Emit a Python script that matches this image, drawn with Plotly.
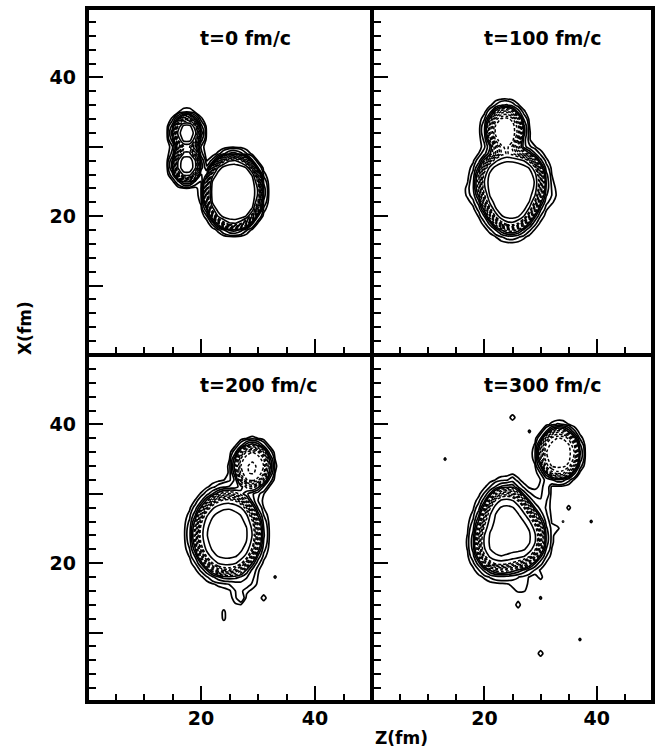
import numpy as np
import plotly.graph_objects as go

# ---- sampling grid of the density (fm) ----
Z_NODES = np.arange(0.0, 51.0, 1.0)
X_NODES = np.arange(0.0, 51.0, 1.0)

# ---- contour levels (fm^-3) ----
LEVELS_OUTER_SOLID = [0.005, 0.01, 0.02, 0.03, 0.04]
LEVELS_DASHED = [0.05, 0.06, 0.07, 0.08, 0.09, 0.10, 0.11]
LEVELS_INNER_SOLID = [0.13, 0.15]

PANEL_LABELS = ["t=0 fm/c", "t=100 fm/c", "t=200 fm/c", "t=300 fm/c"]

# ---- tick positions ----
Z_MAJOR = [20, 40]
Z_LABELS = ["20", "40"]
X_MAJOR = [10, 20, 30, 40]
X_LABELS = ["", "20", "", "40"]

# fragments: z, x, radius, x-stretch, central density, diffuseness, octupole, octupole axis (deg)
FRAGMENTS_T0 = [
    (25.7, 23.5, 4.70, 1.06, 0.17, 0.36, 0.00, 0),
    (17.5, 32.0, 2.05, 1.00, 0.17, 0.36, 0.00, 0),
    (17.5, 27.4, 2.05, 1.00, 0.17, 0.36, 0.00, 0),
]
FRAGMENTS_T100 = [
    (24.7, 24.0, 5.3, 1.00, 0.17, 0.58, 0.06, -90),
    (23.7, 32.4, 2.9, 1.00, 0.122, 0.46, 0.00, 0),
]
FRAGMENTS_T200 = [
    (24.6, 24.2, 5.3, 1.03, 0.158, 0.60, 0.00, 0),
    (29.0, 34.0, 2.9, 1.00, 0.1105, 0.40, 0.00, 0),
]
FRAGMENTS_T300 = [
    (24.3, 24.4, 5.4, 1.00, 0.158, 0.62, 0.09, -20),
    (33.3, 35.8, 3.4, 1.00, 0.105, 0.38, 0.00, 0),
]

# dilute matter: z, x, width along z, width along x, tilt (deg), density
WISPS_T0 = []
WISPS_T100 = [
    (17.5, 23.5, 0.8, 1.0, 0, 0.006),
    (32.0, 23.0, 0.8, 1.0, 0, 0.006),
]
WISPS_T200 = [
    (27.5, 30.5, 2.0, 1.2, 0, 0.012),
    (28.0, 17.5, 1.3, 1.0, 0, 0.012),
    (26.5, 15.5, 0.9, 1.3, 0, 0.009),
    (27.0, 15.0, 0.40, 0.40, 0, 0.011),
    (31.0, 15.0, 0.45, 0.45, 0, 0.008),
    (33.0, 18.0, 0.35, 0.35, 0, 0.006),
    (24.0, 12.5, 0.40, 0.90, 20, 0.008),
]
WISPS_T300 = [
    (30.3, 28.5, 1.1, 2.8, 0, 0.008),
    (31.0, 30.5, 0.35, 0.9, 0, 0.013),
    (33.5, 25.5, 0.9, 0.35, 30, 0.008),
    (25.2, 31.5, 0.5, 0.8, 0, 0.010),
    (26.5, 16.5, 1.5, 0.7, 0, 0.007),
    (25.0, 41.0, 0.5, 0.4, 0, 0.008),
    (28.0, 39.0, 0.35, 0.35, 0, 0.006),
    (13.0, 35.0, 0.35, 0.35, 0, 0.006),
    (35.0, 28.0, 0.40, 0.40, 0, 0.007),
    (39.0, 26.0, 0.35, 0.35, 0, 0.006),
    (30.0, 18.0, 0.35, 0.35, 0, 0.006),
    (30.0, 15.0, 0.35, 0.35, 0, 0.006),
    (26.0, 14.0, 0.40, 0.50, 0, 0.008),
    (37.0, 9.0, 0.35, 0.35, 0, 0.006),
    (30.0, 7.0, 0.45, 0.45, 0, 0.008),
]

SNAPSHOTS = [
    (FRAGMENTS_T0, WISPS_T0),
    (FRAGMENTS_T100, WISPS_T100),
    (FRAGMENTS_T200, WISPS_T200),
    (FRAGMENTS_T300, WISPS_T300),
]


def density(fragments, wisps):
    zz, xx = np.meshgrid(Z_NODES, X_NODES)
    rho = np.zeros_like(zz)
    for cz, cx, rad, stretch, rho0, diff, b3, phi in fragments:
        dz = zz - cz
        dx = (xx - cx) / stretch
        r = np.hypot(dz, dx)
        theta = np.arctan2(dx, dz)
        r_surf = rad * (1.0 + b3 * np.cos(3.0 * (theta - np.radians(phi))))
        rho += rho0 / (1.0 + np.exp((r - r_surf) / diff))
    for cz, cx, wz, wx, tilt, amp in wisps:
        c, s = np.cos(np.radians(tilt)), np.sin(np.radians(tilt))
        dz = zz - cz
        dx = xx - cx
        u = c * dz + s * dx
        v = -s * dz + c * dx
        rho += amp * np.exp(-0.5 * ((u / wz) ** 2 + (v / wx) ** 2))
    return rho


W, H = 658, 749
PX_L, PX_M, PX_R = 87, 372, 653
PY_T, PY_M, PY_B = 8, 355, 702

XL = [PX_L / W, PX_M / W]
XR = [PX_M / W, PX_R / W]
YT = [1 - PY_M / H, 1 - PY_T / H]
YB = [1 - PY_B / H, 1 - PY_M / H]

panels = [
    ("x", "y", XL, YT, False, True),
    ("x2", "y2", XR, YT, False, False),
    ("x3", "y3", XL, YB, True, True),
    ("x4", "y4", XR, YB, True, False),
]

FONT = "DejaVu Sans"
fig = go.Figure()
layout = dict(
    width=W, height=H, margin=dict(l=0, r=0, t=0, b=0),
    paper_bgcolor="white", plot_bgcolor="white", showlegend=False,
    template="none",
)

annotations = []
for (xa, ya, xdom, ydom, show_z, show_x), (frags, wisps), label in zip(panels, SNAPSHOTS, PANEL_LABELS):
    rho = density(frags, wisps)
    styles = ([(lv, "solid", 1.7) for lv in LEVELS_OUTER_SOLID]
              + [(lv, "3px,2px", 1.5) for lv in LEVELS_DASHED]
              + [(lv, "solid", 1.6) for lv in LEVELS_INNER_SOLID])
    for lv, dash, lw in styles:
        fig.add_trace(go.Contour(
            x=Z_NODES, y=X_NODES, z=rho,
            autocontour=False,
            contours=dict(start=lv, end=lv, size=1.0, coloring="none"),
            line=dict(color="black", width=lw, dash=dash, smoothing=0.6),
            showscale=False, hoverinfo="skip",
            xaxis=xa, yaxis=ya,
        ))

    key_x = "xaxis" + xa[1:]
    key_y = "yaxis" + ya[1:]
    layout[key_x] = dict(
        domain=xdom, range=[0, 50], anchor=ya, showgrid=False, zeroline=False,
        showline=False, ticks="inside", ticklen=16, tickwidth=2, tickcolor="black",
        tickvals=Z_MAJOR, ticktext=Z_LABELS, showticklabels=show_z,
        tickfont=dict(family=FONT, size=19, color="black", weight="bold"),
        ticklabelstandoff=3, automargin=False, fixedrange=True,
        minor=dict(ticks="inside", dtick=5, tick0=0, ticklen=8, tickwidth=2,
                   tickcolor="black", showgrid=False),
    )
    layout[key_y] = dict(
        domain=ydom, range=[0, 50], anchor=xa, showgrid=False, zeroline=False,
        showline=False, ticks="inside", ticklen=16, tickwidth=2, tickcolor="black",
        tickvals=X_MAJOR, ticktext=X_LABELS, showticklabels=show_x,
        tickfont=dict(family=FONT, size=19, color="black", weight="bold"),
        ticklabelstandoff=10, automargin=False, fixedrange=True,
        minor=dict(ticks="inside", dtick=2, tick0=0, ticklen=9, tickwidth=2,
                   tickcolor="black", showgrid=False),
    )
    annotations.append(dict(
        text=label, x=19.5, y=45.7, xref=xa, yref=ya, xanchor="left", yanchor="middle",
        showarrow=False, font=dict(family=FONT, size=19, color="black", weight="bold"),
    ))

annotations.append(dict(
    text="X(fm)", x=25 / W, y=1 - 328 / H, xref="paper", yref="paper",
    textangle=-90, showarrow=False, xanchor="center", yanchor="middle",
    font=dict(family=FONT, size=17, color="black", weight="bold"),
))
annotations.append(dict(
    text="Z(fm)", x=373 / W, y=1 - 738 / H, xref="paper", yref="paper",
    showarrow=False, xanchor="left", yanchor="middle",
    font=dict(family=FONT, size=17, color="black", weight="bold"),
))

frame = dict(type="line", xref="paper", yref="paper", layer="above",
             line=dict(color="black", width=4))
shapes = [
    dict(type="rect", xref="paper", yref="paper", layer="above",
         x0=PX_L / W, x1=PX_R / W, y0=1 - PY_B / H, y1=1 - PY_T / H,
         line=dict(color="black", width=4)),
    dict(frame, x0=PX_M / W, x1=PX_M / W, y0=1 - PY_B / H, y1=1 - PY_T / H),
    dict(frame, x0=PX_L / W, x1=PX_R / W, y0=1 - PY_M / H, y1=1 - PY_M / H),
]

layout["annotations"] = annotations
layout["shapes"] = shapes
fig.update_layout(**layout)
fig.write_html("out.html")
